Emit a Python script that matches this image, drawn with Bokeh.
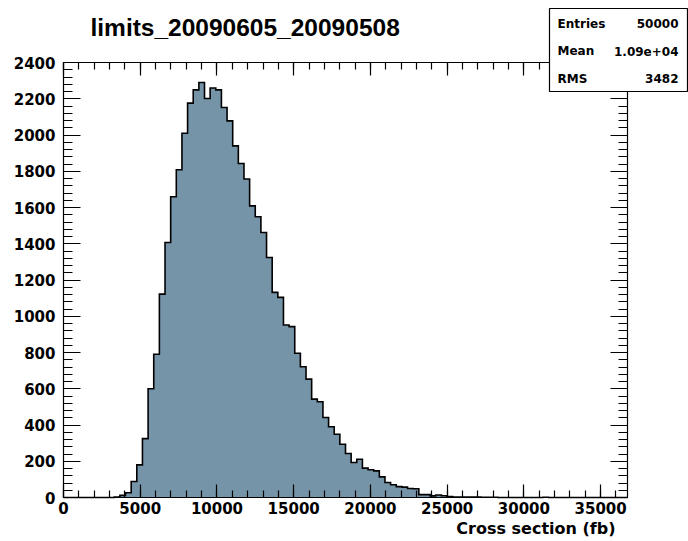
import numpy as np
from bokeh.plotting import figure
from bokeh.models import Range1d, FixedTicker, LinearAxis, Label, BoxAnnotation
from bokeh.embed import file_html
from bokeh.resources import INLINE

# ---- data -------------------------------------------------------------
TITLE = "limits_20090605_20090508"
X_TITLE = "Cross section (fb)"
X_MIN = 0.0
X_MAX = 36750.0
N_BINS = 100
counts = [
    0, 0, 0, 0, 0, 0, 0, 0, 0, 2,
    12, 26, 88, 180, 325, 600, 790, 1122, 1407, 1659,
    1808, 2010, 2176, 2249, 2290, 2201, 2259, 2249, 2152, 2078,
    1940, 1843, 1757, 1609, 1549, 1462, 1324, 1132, 1104, 952,
    943, 796, 721, 653, 543, 528, 441, 390, 349, 294,
    243, 193, 211, 162, 153, 147, 114, 83, 70, 60,
    57, 50, 48, 16, 16, 9, 14, 10, 5, 3,
    2, 2, 2, 2, 1, 1, 1, 0, 0, 0,
    0, 0, 0, 0, 0, 1, 0, 0, 0, 0,
    0, 0, 0, 0, 0, 0, 0, 0, 0, 0,
]
x_ticks = [0, 5000, 10000, 15000, 20000, 25000, 30000, 35000]
x_minor = list(range(0, 37000, 1000))
y_ticks = [0, 200, 400, 600, 800, 1000, 1200, 1400, 1600, 1800, 2000, 2200, 2400]
y_minor = list(range(0, 2401, 40))
stat_names = ["Entries", "Mean", "RMS"]
stat_values = ["50000", "1.09e+04", "3482"]
Y_MIN = 0.0
Y_MAX = 2400.0

# ---- layout (canvas pixels) -------------------------------------------
W, H = 688, 541
FRAME_L, FRAME_R, FRAME_T, FRAME_B = 63, 627, 62, 497
FILL = "#7694a8"
FONT = "DejaVu Sans"
TITLE_FONT = "Liberation Sans"

kx = (FRAME_R - FRAME_L) / (X_MAX - X_MIN)
ky = (FRAME_B - FRAME_T) / (Y_MAX - Y_MIN)
x_range = Range1d(X_MIN - FRAME_L / kx, X_MAX + (W - FRAME_R) / kx)
y_range = Range1d(Y_MIN - (H - FRAME_B) / ky, Y_MAX + FRAME_T / ky)


def sx(px):
    return px


def sy(py):
    return H - py


edges = np.linspace(X_MIN, X_MAX, N_BINS + 1)
# histogram outline as a closed step polygon built from the bin edges and counts
poly_x = [edges[0]]
poly_y = [0]
for i, c in enumerate(counts):
    poly_x += [edges[i], edges[i + 1]]
    poly_y += [c, c]
poly_x.append(edges[-1])
poly_y.append(0)

p = figure(width=W, height=H, x_range=x_range, y_range=y_range,
           output_backend="svg", toolbar_location=None,
           x_axis_location=None, y_axis_location=None, min_border=0)
p.min_border_left = 0
p.min_border_right = 0
p.min_border_top = 0
p.min_border_bottom = 0
p.title.visible = False
p.grid.visible = False
p.outline_line_color = None
p.background_fill_color = "white"
p.border_fill_color = "white"

p.patch(x=poly_x, y=poly_y, fill_color=FILL, line_color=None)
p.line(x=poly_x, y=poly_y, line_color="black", line_width=1.6, line_join="miter")


def make_axis(ticks, minor, major_len, minor_len, show_labels, loc, bounds):
    ax = LinearAxis(ticker=FixedTicker(ticks=ticks, minor_ticks=minor),
                    fixed_location=loc, bounds=bounds)
    ax.major_tick_in = major_len
    ax.major_tick_out = 0
    ax.minor_tick_in = minor_len
    ax.minor_tick_out = 0
    ax.axis_line_color = "black"
    ax.axis_line_width = 1.2
    ax.major_tick_line_color = "black"
    ax.minor_tick_line_color = "black"
    ax.major_tick_line_width = 1.2
    ax.minor_tick_line_width = 1.2
    ax.major_label_text_font = FONT
    ax.major_label_text_font_style = "bold"
    ax.major_label_text_color = "black"
    if show_labels:
        ax.major_label_text_font_size = "15px"
    else:
        ax.major_label_text_font_size = "1px"
        ax.major_label_text_alpha = 0
    return ax


xb = make_axis(x_ticks, x_minor, 13, 7, True, Y_MIN, (X_MIN, X_MAX))
xb.major_label_standoff = 4
yl = make_axis(y_ticks, y_minor, 17, 9, True, X_MIN, (Y_MIN, Y_MAX))
yl.major_label_standoff = 8
xt = make_axis(x_ticks, x_minor, 13, 7, False, Y_MAX, (X_MIN, X_MAX))
yr = make_axis(y_ticks, y_minor, 17, 9, False, X_MAX, (Y_MIN, Y_MAX))
p.add_layout(xb, "below")
p.add_layout(yl, "left")
p.add_layout(xt, "above")
p.add_layout(yr, "right")

# title
p.add_layout(Label(x=sx(90), y=sy(27), x_units="screen", y_units="screen", text=TITLE,
                   text_font=TITLE_FONT, text_font_style="bold", text_font_size="24.5px",
                   text_baseline="middle", text_align="left", text_color="black"))
# x-axis title (right aligned like ROOT)
p.add_layout(Label(x=sx(615), y=sy(528), x_units="screen", y_units="screen", text=X_TITLE,
                   text_font=FONT, text_font_style="bold", text_font_size="16px",
                   text_baseline="middle", text_align="right", text_color="black"))

# stats box
p.add_layout(BoxAnnotation(left=sx(549), right=sx(687), top=sy(8), bottom=sy(91),
                           left_units="screen", right_units="screen",
                           top_units="screen", bottom_units="screen",
                           fill_color="white", fill_alpha=1.0,
                           line_color="black", line_width=1.2, line_alpha=1.0))
row_y = [23, 50.5, 78]
for name, val, yy in zip(stat_names, stat_values, row_y):
    p.add_layout(Label(x=sx(557), y=sy(yy), x_units="screen", y_units="screen", text=name,
                       text_font=FONT, text_font_style="bold", text_font_size="12px",
                       text_baseline="middle", text_align="left", text_color="black"))
    p.add_layout(Label(x=sx(678), y=sy(yy), x_units="screen", y_units="screen", text=val,
                       text_font=FONT, text_font_style="bold", text_font_size="12px",
                       text_baseline="middle", text_align="right", text_color="black"))

open("out.html", "w").write(file_html(p, INLINE))
